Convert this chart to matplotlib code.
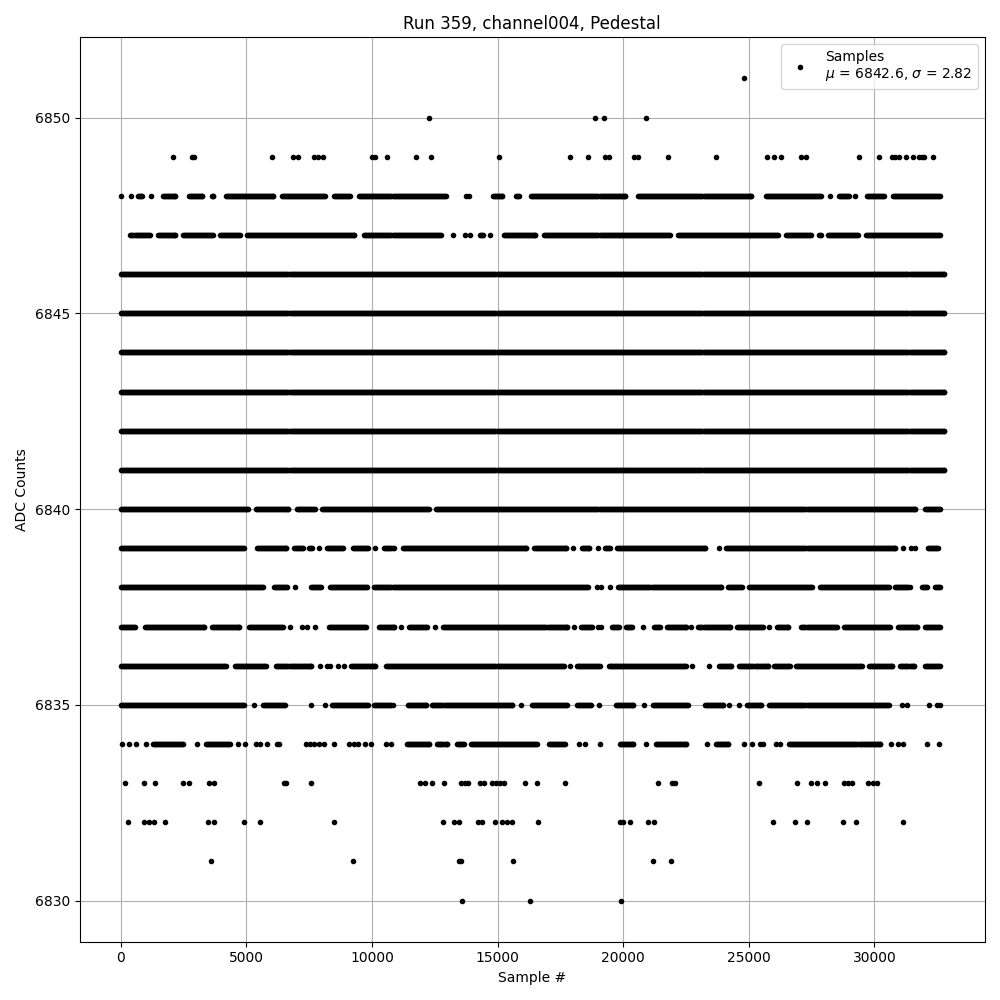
import matplotlib.pyplot as plt
import numpy as np

run_number = 359
channel = "channel004"
n_samples = 32768
mean_adc = 6842.6
sigma_adc = 2.82

# ADC levels hit over the whole run
full_levels = [6841, 6842, 6843, 6844, 6845, 6846]

# (first, last) sample of stretches of hits, and isolated hits, per level
hits_6851 = [24820]
hits_6850 = [12260, 18880, 19230, 20900]
hits_6849 = [2070, 2830, 2930, 6020, 6840, 7050, 7690, 7860, 8050, 10010, 10120,
             10620, 11740, 12350, 15070, 17890, 18600, 19290, 19420, 20450, 20580,
             21770, 23710, 25730, 26010, 26290, 27070, 27280, 29370, 30170, 30700,
             30830, 30970, 31270, 31550, 31760, 31890, 31970, 32350]

runs_6848 = [(700, 860), (1670, 2170), (2700, 3230), (3620, 3670), (4180, 6070),
             (6430, 8120), (8490, 9130), (9500, 12940), (14810, 15190), (15740, 15840),
             (16340, 20070), (20600, 25090), (25690, 27870), (28590, 28990),
             (29720, 30370), (30750, 32600)]
hits_6848 = [0, 410, 1200, 13760, 13860, 28230, 29240]

runs_6847 = [(390, 1150), (1470, 2170), (2470, 3660), (3960, 4750), (5010, 9300),
             (9700, 12740), (14300, 14420), (15250, 16500), (16860, 21850),
             (22180, 26150), (26480, 27470), (27800, 27870), (28170, 29350),
             (29650, 32600)]
hits_6847 = [13240, 13700, 13900, 14690]

runs_6840 = [(0, 5080), (5370, 6660), (7000, 7720), (8010, 12280), (12540, 31630),
             (32030, 32600)]

runs_6839 = [(0, 4900), (5410, 6600), (6900, 7260), (7500, 7620), (8220, 8850),
             (9240, 9830), (10500, 10860), (11220, 16150), (16440, 17730),
             (18350, 18660), (19280, 19480), (19740, 23270), (24100, 30840),
             (32130, 32520)]
hits_6839 = [7900, 10120, 18020, 19000, 23800, 31150, 31450, 31610]

runs_6838 = [(0, 5670), (6100, 6620), (7590, 7990), (8320, 9790), (10100, 18620),
             (19810, 23900), (24170, 24720), (25000, 27500), (27840, 30570),
             (30840, 31400), (31900, 32090), (32400, 32600)]
hits_6838 = [6935, 18950, 19110, 19490]

runs_6837 = [(0, 550), (950, 3320), (3630, 4720), (5110, 6470), (8290, 9770),
             (10270, 10890), (11490, 12210), (12830, 17760), (18320, 18750),
             (19570, 19850), (20100, 20340), (21230, 21460), (21750, 22520),
             (23000, 24270), (24520, 25550), (26110, 26580), (27100, 28500),
             (28790, 30610), (30930, 31700), (32030, 32600)]
hits_6837 = [6740, 7200, 7420, 7750, 11170, 12500, 18040, 19010, 19110, 20790,
             22715, 25790]

runs_6836 = [(0, 4190), (4550, 5780), (6200, 7590), (9170, 10140), (10560, 17630),
             (18170, 19080), (19440, 22520), (23810, 24300), (24630, 25780),
             (26020, 26650), (26880, 29520), (29780, 30710), (31040, 31590),
             (32030, 32600)]
hits_6836 = [7920, 8220, 8340, 8650, 8870, 17890, 22760, 23410]

runs_6835 = [(0, 4900), (5650, 6530), (8410, 9830), (10100, 10820), (11420, 12150),
             (12410, 15580), (16370, 17760), (18160, 18710), (19700, 20400),
             (21190, 22580), (23240, 23970), (24920, 25490), (25820, 30570)]
hits_6835 = [5300, 7570, 8130, 15930, 19030, 20820, 24230, 24600, 31100, 31300,
             32160, 32490, 32600]

runs_6834 = [(1300, 2500), (3390, 4350), (11380, 12280), (12610, 13000),
             (13400, 13660), (13930, 16570), (17060, 17690), (19870, 20400),
             (21290, 22520), (23700, 24190), (26610, 30240)]
hits_6834 = [70, 330, 590, 990, 3020, 4650, 4940, 5380, 5540, 5840, 6220, 6320,
             7360, 7520, 7690, 7890, 8110, 8510, 9080, 9300, 9440, 9720, 9950,
             10560, 10760, 18260, 18480, 19080, 20930, 23320, 24820, 25130, 25430,
             25550, 26100, 26260, 30650, 30940, 31130, 32090, 32590]

hits_6833 = [170, 925, 1360, 2500, 2730, 3530, 3725, 6500, 6590, 7580, 11915, 12110,
             12380, 12880, 13540, 13700, 13830, 14290, 14450, 14800, 14950, 15090,
             15245, 16080, 16565, 17690, 21380, 21955, 22050, 25415, 26910, 27460,
             27710, 28030, 28780, 28960, 29130, 29750, 29950, 30120]
hits_6832 = [290, 925, 1120, 1320, 1770, 3470, 3700, 4890, 5560, 8490, 12850, 13260,
             13470, 14230, 14400, 14910, 15180, 15380, 15560, 16600, 19880, 20000,
             20260, 20990, 21230, 25970, 26840, 27320, 28740, 29260, 31160]
hits_6831 = [3580, 9250, 13450, 13530, 15600, 21175, 21890]
hits_6830 = [13570, 16300, 19930]

runs = {6848: runs_6848, 6847: runs_6847, 6840: runs_6840, 6839: runs_6839,
        6838: runs_6838, 6837: runs_6837, 6836: runs_6836, 6835: runs_6835,
        6834: runs_6834}
for lvl in full_levels:
    runs[lvl] = [(0, n_samples - 1)]

hits = {6851: hits_6851, 6850: hits_6850, 6849: hits_6849, 6848: hits_6848,
        6847: hits_6847, 6839: hits_6839, 6838: hits_6838, 6837: hits_6837,
        6836: hits_6836, 6835: hits_6835, 6834: hits_6834, 6833: hits_6833,
        6832: hits_6832, 6831: hits_6831, 6830: hits_6830}

xs = []
ys = []
for lvl, spans in runs.items():
    for a, b in spans:
        pts = list(np.arange(a, b, 40)) + [b]
        xs += pts
        ys += [lvl] * len(pts)
for lvl, pts in hits.items():
    xs += pts
    ys += [lvl] * len(pts)

fig = plt.figure(figsize=(10, 10))
label = "Samples\n$\\mu$ = %.1f, $\\sigma$ = %.2f" % (mean_adc, sigma_adc)
plt.plot(xs, ys, 'k.', label=label)
plt.title("Run %d, %s, Pedestal" % (run_number, channel))
plt.xlabel("Sample #")
plt.ylabel("ADC Counts")
plt.grid(True)
plt.legend(loc="upper right")
plt.tight_layout()
plt.savefig("out.png", dpi=100)
